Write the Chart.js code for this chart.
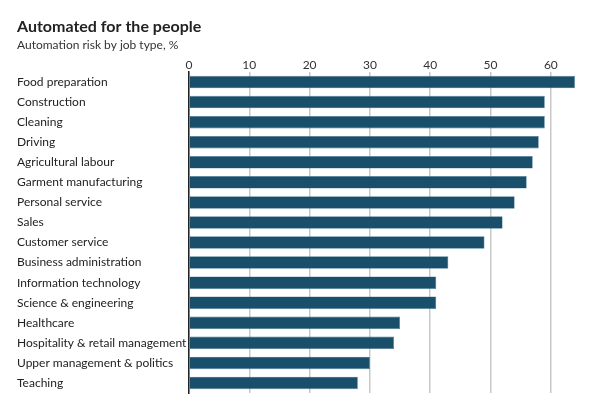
<!DOCTYPE html>
<html>
<head>
<meta charset="utf-8">
<script src="https://cdn.jsdelivr.net/npm/chart.js@4"></script>
<style>
  html, body { margin: 0; padding: 0; background: #fff; }
  canvas { display: block; }
</style>
</head>
<body>
<canvas id="bar-chart" width="602" height="395"></canvas>
<script>
var jobs = [
    'Food preparation', 'Construction', 'Cleaning', 'Driving',
    'Agricultural labour', 'Garment manufacturing', 'Personal service', 'Sales',
    'Customer service', 'Business administration', 'Information technology',
    'Science & engineering', 'Healthcare', 'Hospitality & retail management',
    'Upper management & politics', 'Teaching'
]
var risk = [64, 59, 59, 58, 57, 56, 54, 52, 49, 43, 41, 41, 35, 34, 30, 28]
var xTicks = [0, 10, 20, 30, 40, 50, 60]

var font = 'Lato, "Open Sans", sans-serif'

var data = {
    labels: jobs,
    datasets: [
        {
            label: 'Automation risk',
            data: risk,
            backgroundColor: '#1a4f6b',
            borderColor: '#4d7f98',
            borderWidth: 0.6,
            barPercentage: 0.62,
            categoryPercentage: 1
        }
    ]
}

var options = {
    type: 'bar',
    data: data,
    options: {
        indexAxis: 'y',
        responsive: false,
        animation: false,
        layout: { padding: { left: 17, right: 21, top: 17, bottom: 2 } },
        scales: {
            x: {
                position: 'top',
                min: 0,
                max: 65,
                afterBuildTicks: (scale) => { scale.ticks = xTicks.map(v => ({ value: v })) },
                grid: {
                    color: '#c8c8c8',
                    lineWidth: 1.5,
                    drawTicks: false
                },
                border: { display: false },
                ticks: {
                    padding: 0,
                    color: '#333',
                    font: { family: font, size: 12 }
                }
            },
            y: {
                grid: { display: false, drawTicks: false },
                border: { display: true, color: '#222', width: 1.5 },
                afterFit: (scale) => {
                    scale.width = 172
                    scale.paddingTop = 0
                    scale.paddingBottom = 0
                },
                ticks: {
                    crossAlign: 'far',
                    padding: 0,
                    color: '#222',
                    font: { family: font, size: 12 }
                }
            }
        },
        plugins: {
            legend: { display: false },
            tooltip: { enabled: false },
            title: {
                display: true,
                align: 'start',
                text: 'Automated for the people',
                color: '#222',
                font: { family: font, size: 16, weight: 'bold' },
                padding: { top: 0, bottom: 2 }
            },
            subtitle: {
                display: true,
                align: 'start',
                text: 'Automation risk by job type, %',
                color: '#333',
                font: { family: font, size: 12 },
                padding: { top: 0, bottom: 5 }
            }
        }
    }
}

var ctx = document.getElementById('bar-chart').getContext('2d')
var chart = new Chart(ctx, options)
</script>
</body>
</html>
